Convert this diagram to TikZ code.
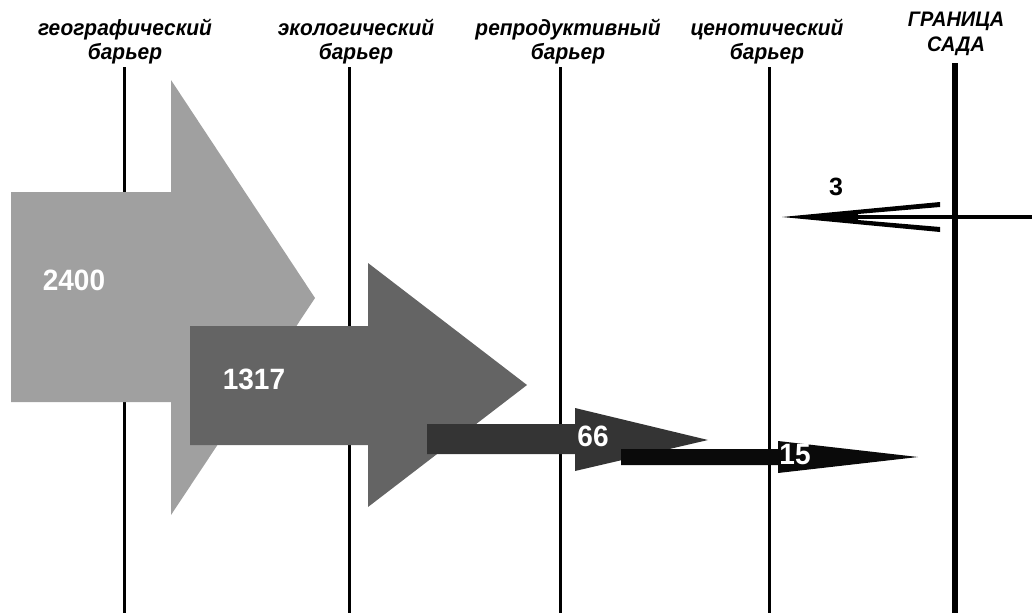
\documentclass[tikz,border=0pt]{standalone}
\usepackage{fontspec}
\setmainfont{Liberation Sans}
\begin{document}
\begin{tikzpicture}[x=1pt,y=-1pt,
  barrier/.style={line width=3pt,black},
  garden/.style={line width=6pt,black},
  head/.style={font=\bfseries\itshape\fontsize{22}{24}\selectfont,align=center,inner sep=0pt,xscale=0.95},
  num/.style={font=\bfseries\fontsize{28}{30}\selectfont,text=white,inner sep=0pt,yscale=1.05},
  flow/.style={draw=none}]
\useasboundingbox (0,0) rectangle (1032,613);

% barrier captions
\node[head] (geo) at (125,42) {географический\\барьер};
\node[head] (eco) at (356,42) {экологический\\барьер};
\node[head] (rep) at (568,42) {репродуктивный\\барьер};
\node[head] (cen) at (767,42) {ценотический\\барьер};
\node[head,font=\bfseries\itshape\fontsize{21}{25}\selectfont] (gar) at (956,34) {ГРАНИЦА\\САДА};

% barrier lines
\coordinate (geoT) at (124,67);  \coordinate (geoB) at (124,613);
\coordinate (ecoT) at (349,67);  \coordinate (ecoB) at (349,613);
\coordinate (repT) at (560,67);  \coordinate (repB) at (560,613);
\coordinate (cenT) at (769,67);  \coordinate (cenB) at (769,613);
\coordinate (garT) at (955,63);  \coordinate (garB) at (955,613);
\draw[barrier] (geoT) -- (geoB);
\draw[barrier] (ecoT) -- (ecoB);
\draw[barrier] (repT) -- (repB);
\draw[barrier] (cenT) -- (cenB);
\draw[garden] (garT) -- (garB);

% flow arrows
\fill[flow,fill={rgb,255:red,160;green,160;blue,160}]
  (11,192) -- (171,192) -- (171,80) -- (315,298) -- (171,515) -- (171,402) -- (11,402) -- cycle;
\fill[flow,fill={rgb,255:red,100;green,100;blue,100}]
  (190,326) -- (368,326) -- (368,263) -- (527,385) -- (368,507) -- (368,445) -- (190,445) -- cycle;
\fill[flow,fill={rgb,255:red,52;green,52;blue,52}]
  (427,424) -- (575,424) -- (575,408) -- (708,440) -- (575,471) -- (575,454) -- (427,454) -- cycle;
\fill[flow,fill={rgb,255:red,10;green,10;blue,10}]
  (621,449) -- (778,449) -- (778,441) -- (918,457) -- (778,473) -- (778,465) -- (621,465) -- cycle;

% numbers on the arrows
\node[num] (n2400) at (74,280) {2400};
\node[num] (n1317) at (254,379) {1317};
\node[num] (n66) at (593,436) {66};
\node[num] (n15) at (795,455) {15};

% returning arrow at the garden border
\coordinate (retS) at (1032,217);
\coordinate (retT) at (782,217);
\draw[line width=4pt] (retS) -- (850,217);
\fill (retT) -- (940,202) -- (940,207) -- (858,214) -- (858,220)
  -- (940,227) -- (940,232) -- cycle;
\node[font=\bfseries\fontsize{25}{27}\selectfont,inner sep=0pt] (n3) at (836,187) {3};
\end{tikzpicture}
\end{document}
